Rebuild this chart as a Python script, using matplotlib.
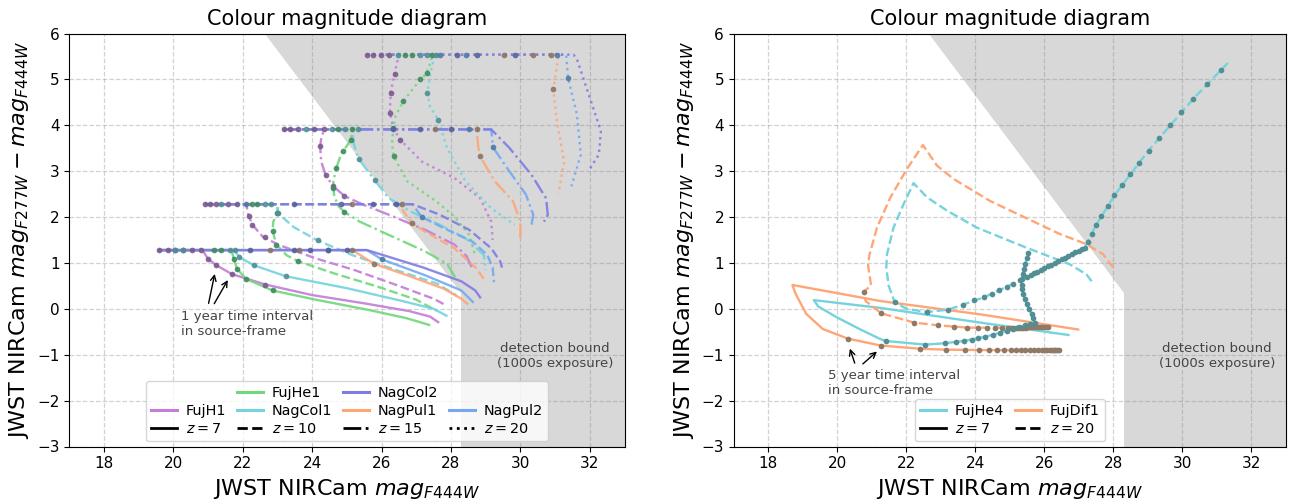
import matplotlib
matplotlib.use("Agg")
import matplotlib.pyplot as plt
from matplotlib.lines import Line2D

# ---------------------------------------------------------------- axes / ticks
x_ticks = [18, 20, 22, 24, 26, 28, 30, 32]
y_ticks = [-3, -2, -1, 0, 1, 2, 3, 4, 5, 6]
redshifts = [7, 10, 15, 20]

# detection limits (1000 s exposure)
f444w_limit = 28.3
f277w_limit = 28.65

# ---------------------------------------------------------------- left panel tracks
# (mag_F444W, colour) along each light curve
fujh1_tracks = {
    7: [(19.6, 1.28), (20.84, 1.28), (21.0, 1.09), (21.24, 0.95), (21.68, 0.76), (22.65, 0.53),
        (24.0, 0.3), (25.5, 0.12), (26.8, -0.05), (27.4, -0.17), (27.63, -0.29)],
    10: [(20.92, 2.28), (22.1, 2.28), (22.16, 2.05), (22.28, 1.83), (22.58, 1.57), (23.05, 1.39),
         (24.1, 1.1), (25.2, 0.85), (26.5, 0.5), (27.5, 0.22), (27.85, 0.08)],
    15: [(23.16, 3.91), (24.34, 3.91), (24.26, 3.7), (24.23, 3.54), (24.26, 3.21), (24.39, 2.91),
         (24.61, 2.67), (24.93, 2.46), (25.47, 2.27), (26.21, 2.05), (27.26, 1.72), (28.1, 1.4),
         (28.45, 1.15), (28.6, 0.9)],
    20: [(25.58, 5.54), (26.5, 5.54), (26.37, 5.11), (26.26, 4.71), (26.24, 4.27), (26.34, 3.94),
         (26.53, 3.69), (27.16, 3.21), (28.1, 2.85), (28.84, 2.41), (29.16, 1.9), (29.2, 1.5)],
}
fujh1_marks = {
    7: [(19.6, 1.28), (19.84, 1.28), (20.05, 1.28), (20.29, 1.28), (20.53, 1.28), (20.79, 1.28),
        (21.0, 1.09), (21.24, 0.95), (21.68, 0.76), (22.65, 0.53)],
    10: [(20.92, 2.28), (21.05, 2.28), (21.24, 2.28), (21.58, 2.28), (21.84, 2.28), (22.18, 2.03),
         (22.28, 1.83), (22.65, 1.57)],
    15: [(23.18, 3.91), (23.37, 3.91), (23.6, 3.91), (24.05, 3.91), (24.34, 3.91), (24.23, 3.54),
         (24.39, 2.91), (24.61, 2.67), (24.93, 2.46)],
    20: [(25.58, 5.54), (25.76, 5.54), (25.97, 5.54), (26.21, 5.54), (26.4, 5.11), (26.26, 4.71),
         (26.24, 4.27), (26.53, 3.69)],
}

fujhe1_tracks = {
    7: [(19.6, 1.28), (21.68, 1.28), (21.74, 1.09), (21.84, 0.87), (22.1, 0.65), (22.86, 0.40),
        (24.1, 0.2), (25.6, -0.02), (26.7, -0.2), (27.37, -0.35)],
    10: [(20.92, 2.28), (23.0, 2.28), (23.0, 2.08), (22.88, 1.9), (22.86, 1.7), (22.97, 1.40),
         (23.26, 1.17), (23.58, 1.04), (24.6, 0.78), (25.9, 0.48), (27.0, 0.2), (27.58, -0.04)],
    15: [(23.16, 3.91), (25.16, 3.91), (25.12, 3.7), (25.0, 3.55), (24.85, 3.4), (24.71, 3.1),
         (24.61, 2.78), (24.63, 2.49), (24.74, 2.25), (24.95, 2.1), (25.37, 1.9), (26.21, 1.61),
         (27.26, 1.25), (27.89, 0.98), (28.15, 0.65)],
    20: [(25.58, 5.54), (27.47, 5.54), (27.38, 5.3), (27.28, 5.12), (27.1, 4.98), (26.63, 4.53),
         (26.4, 4.2), (26.34, 3.94), (26.3, 3.6), (26.35, 3.32), (26.74, 2.78), (27.58, 2.34),
         (28.1, 2.01), (28.53, 1.61), (28.7, 1.15)],
}
fujhe1_marks = {
    7: [(21.16, 1.28), (21.37, 1.28), (21.74, 1.09), (21.84, 0.87), (22.1, 0.65), (22.86, 0.40)],
    10: [(22.26, 2.28), (22.42, 2.28), (23.0, 2.08), (22.86, 1.7), (22.97, 1.40), (23.58, 1.04)],
    15: [(24.74, 3.91), (25.16, 3.91), (25.12, 3.68), (24.88, 3.45), (24.7, 3.06), (24.61, 2.63),
         (24.91, 2.12)],
    20: [(26.68, 5.54), (26.89, 5.54), (27.45, 5.54), (27.3, 5.15), (27.12, 5.0), (26.63, 4.53),
         (26.34, 3.94), (26.35, 3.32)],
}

nagcol1_tracks = {
    7: [(19.6, 1.28), (21.77, 1.28), (21.89, 1.13), (22.32, 0.95), (23.24, 0.71), (25.0, 0.45),
        (26.6, 0.17), (27.5, 0.0), (27.87, -0.15)],
    10: [(20.92, 2.28), (23.0, 2.28), (23.02, 2.08), (23.47, 1.78), (24.16, 1.49), (25.16, 1.17),
         (26.4, 0.85), (27.6, 0.55), (28.16, 0.29)],
    15: [(23.16, 3.91), (25.16, 3.91), (25.2, 3.6), (25.32, 3.29), (25.79, 2.81), (26.21, 2.41),
         (26.84, 2.12), (27.68, 1.83), (28.42, 1.54), (28.95, 1.17), (29.0, 0.84)],
    20: [(25.58, 5.54), (27.53, 5.54), (27.4, 5.1), (27.32, 4.71), (27.4, 4.4), (27.63, 4.12),
         (27.89, 3.5), (28.42, 2.78), (29.16, 2.19), (29.84, 1.83)],
}
nagcol1_marks = {
    7: [(20.05, 1.28), (20.29, 1.28), (21.63, 1.28), (21.77, 1.28), (21.89, 1.13), (22.32, 0.95),
        (23.24, 0.71)],
    10: [(21.37, 2.28), (22.63, 2.28), (22.82, 2.28), (23.02, 2.08), (24.16, 1.49)],
    15: [(23.81, 3.91), (24.58, 3.91), (24.95, 3.91), (25.32, 3.91), (25.35, 3.27), (25.81, 2.8)],
    20: [(26.47, 5.54), (27.11, 5.54), (27.32, 5.54), (27.58, 5.54), (27.32, 4.71), (27.63, 4.12)],
}

nagcol2_tracks = {
    7: [(19.6, 1.28), (25.58, 1.28), (27.2, 0.9), (28.3, 0.6), (28.7, 0.4), (28.84, 0.25)],
    10: [(20.92, 2.28), (26.89, 2.28), (27.68, 2.05), (28.53, 1.72), (29.16, 1.32), (29.42, 1.03),
         (29.47, 0.9)],
    15: [(23.16, 3.91), (29.16, 3.91), (29.68, 3.51), (30.32, 2.92), (30.74, 2.41), (30.79, 2.05),
         (30.68, 1.9)],
    20: [(25.58, 5.54), (31.53, 5.54), (31.63, 5.44), (32.0, 4.6), (32.32, 3.87), (32.26, 3.36),
         (32.0, 3.05)],
}
nagcol2_marks = {
    7: [(22.21, 1.28), (23.47, 1.28), (23.95, 1.28), (24.47, 1.28), (25.0, 1.28)],
    10: [(23.47, 2.28), (24.84, 2.28), (25.74, 2.28), (26.42, 2.28)],
    15: [(26.32, 3.91), (27.11, 3.91), (28.0, 3.91)],
    20: [(28.16, 5.54), (28.74, 5.54), (29.84, 5.54)],
}

nagpul1_tracks = {
    7: [(19.6, 1.28), (25.16, 1.28), (25.47, 1.13), (25.79, 0.98), (26.74, 0.73), (27.79, 0.44),
        (28.3, 0.22), (28.47, 0.11)],
    10: [(20.92, 2.28), (26.53, 2.28), (26.65, 2.1), (26.89, 1.86), (27.26, 1.68), (28.1, 1.32),
         (28.74, 0.88), (28.97, 0.62)],
    15: [(23.16, 3.91), (28.74, 3.91), (28.79, 3.5), (28.84, 3.32), (29.26, 2.78), (29.79, 2.34),
         (30.0, 1.9), (30.0, 1.54)],
    20: [(25.58, 5.54), (31.1, 5.54), (30.95, 4.78), (31.05, 4.09), (31.26, 3.21), (31.1, 2.52)],
}
nagpul1_marks = {
    7: [(22.79, 1.28), (23.63, 1.28), (25.16, 1.28), (25.79, 0.98)],
    10: [(25.16, 2.28), (26.58, 2.28), (26.89, 1.86)],
    15: [(27.53, 3.91), (28.74, 3.91), (28.84, 3.32)],
    20: [(29.53, 5.54), (30.37, 5.54), (30.89, 5.54), (30.95, 4.78)],
}

nagpul2_tracks = {
    7: [(19.6, 1.28), (25.58, 1.28), (26.0, 1.08), (27.26, 0.73), (28.3, 0.4), (28.63, 0.15)],
    10: [(20.92, 2.28), (26.89, 2.28), (27.16, 2.0), (27.79, 1.76), (28.63, 1.46), (29.05, 1.17),
         (29.2, 0.9), (29.24, 0.58)],
    15: [(23.16, 3.91), (29.16, 3.91), (29.21, 3.52), (29.68, 3.0), (30.16, 2.49), (30.37, 2.05),
         (30.32, 1.83)],
    20: [(25.58, 5.54), (31.32, 5.54), (31.37, 5.04), (31.63, 4.23), (31.74, 3.36), (31.47, 2.67)],
}
nagpul2_marks = {
    7: [(24.47, 1.28), (26.0, 1.08)],
    10: [(22.1, 2.28), (27.16, 2.0)],
    15: [(28.53, 3.91), (29.21, 3.52)],
    20: [(27.68, 5.54), (28.42, 5.54), (31.05, 5.54), (31.37, 5.04)],
}

# ---------------------------------------------------------------- right panel tracks
fujhe4_z7_track = [(26.7, -0.57), (24.14, -0.30), (21.25, 0.02), (19.32, 0.19), (19.45, 0.05),
                   (20.0, -0.19), (20.67, -0.45), (21.25, -0.66), (21.4, -0.70), (22.55, -0.78),
                   (23.11, -0.75), (23.67, -0.70), (24.28, -0.61), (24.91, -0.48), (25.44, -0.36),
                   (25.73, -0.30), (25.63, -0.12), (25.49, 0.10), (25.39, 0.32), (25.34, 0.53),
                   (25.37, 0.75), (25.44, 0.97), (25.54, 1.22)]
fujhe4_z7_marks = [(21.4, -0.70), (22.55, -0.78), (23.11, -0.75), (23.44, -0.72), (23.67, -0.70),
                   (23.9, -0.67), (24.09, -0.64), (24.28, -0.61), (24.51, -0.57), (24.72, -0.52),
                   (24.91, -0.48), (25.1, -0.43), (25.28, -0.39), (25.44, -0.36), (25.58, -0.33),
                   (25.73, -0.30), (25.68, -0.2), (25.63, -0.12), (25.56, -0.01), (25.49, 0.10),
                   (25.44, 0.21), (25.39, 0.32), (25.36, 0.43), (25.34, 0.53), (25.35, 0.64),
                   (25.37, 0.75), (25.40, 0.86), (25.44, 0.97), (25.49, 1.1), (25.54, 1.22)]

fujhe4_z20_track = [(27.37, 0.6), (27.22, 0.75), (26.74, 0.97), (25.49, 1.33), (24.04, 1.77),
                    (23.18, 2.14), (22.6, 2.43), (22.21, 2.74), (21.92, 2.28), (21.63, 1.77),
                    (21.44, 1.19), (21.42, 0.9), (21.49, 0.5), (21.66, 0.15), (22.0, 0.0),
                    (22.6, -0.07), (23.2, -0.02), (23.64, 0.09), (24.24, 0.25), (24.91, 0.48),
                    (25.49, 0.69), (27.17, 1.33), (27.5, 1.83), (28.03, 2.47), (29.02, 3.45),
                    (30.32, 4.58), (31.32, 5.36)]
fujhe4_z20_marks = [(21.66, 0.15), (22.6, -0.07), (23.2, -0.02), (23.64, 0.09), (23.95, 0.19),
                    (24.24, 0.25), (24.48, 0.33), (24.7, 0.40), (24.91, 0.48), (25.1, 0.55),
                    (25.3, 0.62), (25.49, 0.69), (25.6, 0.73), (25.7, 0.77), (25.8, 0.81),
                    (25.9, 0.85), (26.0, 0.89), (26.1, 0.93), (26.2, 0.96), (26.3, 1.0),
                    (26.4, 1.04), (26.5, 1.08), (26.6, 1.11), (26.7, 1.15), (26.8, 1.19),
                    (26.9, 1.23), (27.0, 1.26), (27.1, 1.3), (27.17, 1.33), (27.26, 1.46),
                    (27.37, 1.63), (27.5, 1.83), (27.65, 2.03), (27.84, 2.24), (28.03, 2.47),
                    (28.24, 2.69), (28.49, 2.94), (28.74, 3.18), (29.02, 3.45), (29.32, 3.72),
                    (29.63, 4.0), (29.97, 4.29), (30.32, 4.58), (30.72, 4.89), (31.12, 5.21)]

fujdif1_z7_track = [(26.98, -0.45), (24.14, -0.12), (21.25, 0.17), (18.7, 0.52), (18.79, 0.33),
                    (19.1, -0.11), (19.58, -0.44), (20.31, -0.65), (21.26, -0.80), (22.41, -0.87),
                    (23.16, -0.89), (24.4, -0.9), (26.42, -0.9)]
fujdif1_z7_marks = [(20.31, -0.65), (21.26, -0.80), (22.41, -0.87), (23.16, -0.89), (23.7, -0.9),
                    (24.1, -0.9), (24.39, -0.9), (24.63, -0.9), (24.84, -0.9), (25.02, -0.9),
                    (25.18, -0.9), (25.32, -0.9), (25.45, -0.9), (25.58, -0.9), (25.71, -0.9),
                    (25.81, -0.9), (25.92, -0.9), (26.02, -0.9), (26.08, -0.9), (26.15, -0.9),
                    (26.21, -0.9), (26.27, -0.9), (26.32, -0.9), (26.37, -0.9), (26.42, -0.9)]

fujdif1_z20_track = [(28.0, 0.9), (27.7, 1.19), (27.22, 1.41), (26.45, 1.63), (24.43, 2.35),
                     (23.37, 2.83), (22.89, 3.12), (22.48, 3.57), (22.02, 3.05), (21.54, 2.43),
                     (21.15, 1.77), (20.93, 1.17), (20.89, 0.95), (20.98, 0.51), (20.76, 0.37),
                     (20.82, 0.17), (21.28, -0.10), (22.23, -0.30), (22.93, -0.36), (23.79, -0.41),
                     (26.16, -0.41)]
fujdif1_z20_marks = [(20.76, 0.37), (21.28, -0.10), (22.23, -0.30), (22.93, -0.36), (23.37, -0.39),
                     (23.77, -0.41), (24.09, -0.41), (24.33, -0.41), (24.57, -0.41), (24.76, -0.41),
                     (24.96, -0.41), (25.03, -0.41), (25.1, -0.41), (25.18, -0.41), (25.25, -0.41),
                     (25.32, -0.41), (25.39, -0.41), (25.46, -0.41), (25.54, -0.40), (25.61, -0.40),
                     (25.68, -0.40), (25.75, -0.40), (25.83, -0.40), (25.9, -0.40), (25.97, -0.40),
                     (26.04, -0.40), (26.12, -0.40)]

# ---------------------------------------------------------------- styles
line_styles = {7: "-", 10: "--", 15: "-.", 20: ":"}

left_models = [
    ("FujH1", fujh1_tracks, fujh1_marks, "#c47cd8", "#7b5a8e"),
    ("FujHe1", fujhe1_tracks, fujhe1_marks, "#6fd87a", "#3f8a5e"),
    ("NagCol1", nagcol1_tracks, nagcol1_marks, "#74d3dc", "#4f8f96"),
    ("NagPul1", nagpul1_tracks, nagpul1_marks, "#ffa677", "#8c7462"),
    ("NagPul2", nagpul2_tracks, nagpul2_marks, "#74a9f2", "#4f7aa6"),
    ("NagCol2", nagcol2_tracks, nagcol2_marks, "#7e7ce3", "#56609e"),
]
model_colours = {name: c for name, _, _, c, _ in left_models}

cyan, cyan_dot = "#74d3dc", "#518f94"
orange, orange_dot = "#ffa677", "#8f7a66"

text_grey = "#444444"
line_w = 1.7
dot_size = 4.1

fig = plt.figure(figsize=(12.93, 5.0), dpi=100)
ax_l = fig.add_axes([0.0535, 0.107, 0.4295, 0.826])
ax_r = fig.add_axes([0.5675, 0.107, 0.427, 0.826])


def setup(ax):
    ax.set_xlim(17, 33)
    ax.set_ylim(-3, 6)
    ax.set_xticks(x_ticks)
    ax.set_yticks(y_ticks)
    ax.tick_params(labelsize=11)
    ax.grid(True, linestyle="--", color="grey", alpha=0.35, linewidth=0.9)
    ax.set_axisbelow(True)
    ax.set_title("Colour magnitude diagram", fontsize=15)
    ax.set_xlabel("JWST NIRCam $mag_{F444W}$", fontsize=16)
    ax.set_ylabel("JWST NIRCam $mag_{F277W} - mag_{F444W}$", fontsize=16)
    # undetectable region
    x_top = f277w_limit - 6
    poly_x = [x_top, 33, 33, f444w_limit, f444w_limit]
    poly_y = [6, 6, -3, -3, f277w_limit - f444w_limit]
    ax.fill(poly_x, poly_y, color="grey", alpha=0.3, lw=0, zorder=0.2)
    ax.text(31.0, -1.02, "detection bound\n(1000s exposure)", ha="center", va="center",
            fontsize=9.5, color=text_grey)


def xs(pts):
    return [p[0] for p in pts]


def ys(pts):
    return [p[1] for p in pts]


def legend(ax, handles, labels, ncol):
    ax.legend(handles, labels, ncol=ncol, loc="lower center", fontsize=10.4,
              handlelength=1.8, handletextpad=0.6, columnspacing=0.75,
              labelspacing=0.3, borderpad=0.35, borderaxespad=0.35)


setup(ax_l)
setup(ax_r)

# ---------------------------------------------------------------- left panel
for name, tracks, marks, colour, dot in left_models:
    for z in redshifts:
        ax_l.plot(xs(tracks[z]), ys(tracks[z]), ls=line_styles[z], color=colour, lw=line_w,
                  alpha=0.9, zorder=2)
for name, tracks, marks, colour, dot in left_models:
    for z in redshifts:
        ax_l.plot(xs(marks[z]), ys(marks[z]), "o", color=dot, ms=dot_size, mew=0, alpha=0.9,
                  zorder=3)

ax_l.text(20.21, -0.32, "1 year time interval\nin source-frame", ha="left", va="center",
          fontsize=9.5, color=text_grey)
ax_l.annotate("", xy=(21.21, 0.82), xytext=(21.0, 0.06),
              arrowprops=dict(arrowstyle="->", color="black", lw=1.0))
ax_l.annotate("", xy=(21.61, 0.68), xytext=(21.14, 0.06),
              arrowprops=dict(arrowstyle="->", color="black", lw=1.0))

blank = Line2D([], [], color="none")
handles_l = [
    blank,
    Line2D([], [], color=model_colours["FujH1"], lw=2.2),
    Line2D([], [], color="black", lw=2, ls="-"),
    Line2D([], [], color=model_colours["FujHe1"], lw=2.2),
    Line2D([], [], color=model_colours["NagCol1"], lw=2.2),
    Line2D([], [], color="black", lw=2, ls="--"),
    Line2D([], [], color=model_colours["NagCol2"], lw=2.2),
    Line2D([], [], color=model_colours["NagPul1"], lw=2.2),
    Line2D([], [], color="black", lw=2, ls="-."),
    blank,
    Line2D([], [], color=model_colours["NagPul2"], lw=2.2),
    Line2D([], [], color="black", lw=2, ls=":"),
]
labels_l = ["", "FujH1", "$z=7$", "FujHe1", "NagCol1", "$z=10$", "NagCol2", "NagPul1", "$z=15$",
            "", "NagPul2", "$z=20$"]
legend(ax_l, handles_l, labels_l, 4)

# ---------------------------------------------------------------- right panel
ax_r.plot(xs(fujhe4_z7_track), ys(fujhe4_z7_track), "-", color=cyan, lw=line_w, zorder=2)
ax_r.plot(xs(fujdif1_z7_track), ys(fujdif1_z7_track), "-", color=orange, lw=line_w, zorder=2)
ax_r.plot(xs(fujhe4_z20_track), ys(fujhe4_z20_track), "--", color=cyan, lw=line_w, zorder=2)
ax_r.plot(xs(fujdif1_z20_track), ys(fujdif1_z20_track), "--", color=orange, lw=line_w, zorder=2)

ax_r.plot(xs(fujdif1_z7_marks), ys(fujdif1_z7_marks), "o", color=orange_dot, ms=dot_size, mew=0,
          zorder=3)
ax_r.plot(xs(fujdif1_z20_marks), ys(fujdif1_z20_marks), "o", color=orange_dot, ms=dot_size, mew=0,
          zorder=3)
ax_r.plot(xs(fujhe4_z7_marks), ys(fujhe4_z7_marks), "o", color=cyan_dot, ms=dot_size, mew=0,
          zorder=3)
ax_r.plot(xs(fujhe4_z20_marks), ys(fujhe4_z20_marks), "o", color=cyan_dot, ms=dot_size, mew=0,
          zorder=3)

ax_r.text(19.73, -1.62, "5 year time interval\nin source-frame", ha="left", va="center",
          fontsize=9.5, color=text_grey)
ax_r.annotate("", xy=(20.34, -0.81), xytext=(20.53, -1.24),
              arrowprops=dict(arrowstyle="->", color="black", lw=1.0))
ax_r.annotate("", xy=(21.21, -0.89), xytext=(20.68, -1.24),
              arrowprops=dict(arrowstyle="->", color="black", lw=1.0))

handles_r = [
    Line2D([], [], color=cyan, lw=2.2),
    Line2D([], [], color="black", lw=2, ls="-"),
    Line2D([], [], color=orange, lw=2.2),
    Line2D([], [], color="black", lw=2, ls="--"),
]
labels_r = ["FujHe4", "$z=7$", "FujDif1", "$z=20$"]
legend(ax_r, handles_r, labels_r, 2)

fig.savefig("out.png", dpi=100)
